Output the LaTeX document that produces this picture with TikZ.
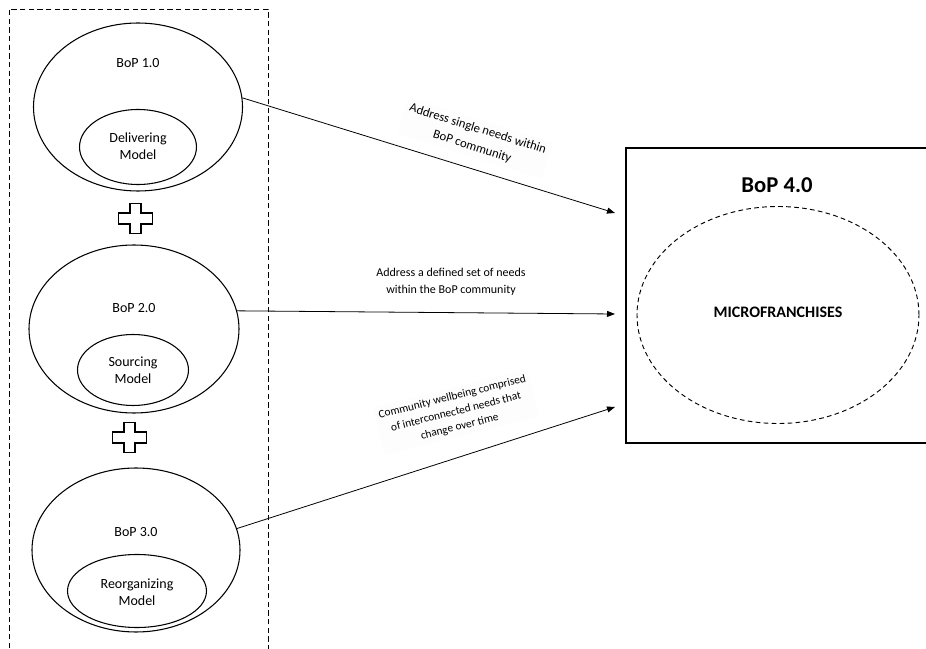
\documentclass[tikz,border=0pt]{standalone}
\usepackage{fontspec}
\setmainfont{Carlito}
\usetikzlibrary{shapes.geometric,arrows.meta}
\tikzset{
  outerell/.style={ellipse,draw,line width=0.8pt,inner sep=0pt},
  innerell/.style={ellipse,draw,line width=0.8pt,inner sep=0pt},
  elltext/.style={font=\fontsize{10.5pt}{13pt}\selectfont,align=center,inner sep=0pt},
  conn/.style={line width=0.6pt,-{Triangle[length=6pt,width=4.5pt]}},
  lbl/.style={fill=white!99.3!black,align=center,inner sep=3pt},
  plussign/.pic={\draw[line width=0.8pt] (-5.5,-15)--(5.5,-15)--(5.5,-5.5)--(17,-5.5)--(17,5.5)--(5.5,5.5)--(5.5,15)--(-5.5,15)--(-5.5,5.5)--(-17,5.5)--(-17,-5.5)--(-5.5,-5.5)--cycle;}
}
\begin{document}
\begin{tikzpicture}[x=0.75pt,y=-0.75pt]
\useasboundingbox[fill=white] (0,0) rectangle (926,649);
% dashed frame
\node[draw,dash pattern=on 4pt off 2.5pt,line width=0.7pt,minimum width=194.25pt,minimum height=488.25pt,inner sep=0pt] (frame) at (138.5,334.5) {};
% ellipses
\node[outerell,minimum width=156.75pt,minimum height=126pt] (e1) at (138,107) {};
\node[innerell,minimum width=87.75pt,minimum height=56.25pt] (i1) at (138,147) {};
\node[elltext] (t1) at (138,63) {BoP 1.0};
\node[elltext] (m1) at (138,146) {Delivering\\Model};
\node[outerell,minimum width=157.5pt,minimum height=126pt] (e2) at (134,329) {};
\node[innerell,minimum width=83.25pt,minimum height=53.25pt] (i2) at (133,370) {};
\node[elltext] (t2) at (134,308) {BoP 2.0};
\node[elltext] (m2) at (133,370) {Sourcing\\Model};
\node[outerell,minimum width=156pt,minimum height=123pt] (e3) at (136,550) {};
\node[innerell,minimum width=104.25pt,minimum height=54.75pt] (i3) at (137,591) {};
\node[elltext] (t3) at (136,532) {BoP 3.0};
\node[elltext] (m3) at (137,592) {Reorganizing\\Model};
% plus signs
\pic at (135.5,218.5) {plussign};
\pic at (129.5,437.5) {plussign};
% right box
\node[draw,line width=0.8pt,minimum width=240pt,minimum height=221.25pt,inner sep=0pt] (box) at (786,295.5) {};
\node[draw,dash pattern=on 3.5pt off 2.5pt,line width=0.7pt,ellipse,minimum width=211.5pt,minimum height=162.75pt,inner sep=0pt] (micro) at (778,315) {};
\node[font=\bfseries\fontsize{17pt}{20pt}\selectfont,inner sep=0pt] (b4) at (777,185) {BoP 4.0};
\node[font=\bfseries\fontsize{12pt}{14pt}\selectfont,inner sep=0pt] (mf) at (778,312) {MICROFRANCHISES};
% arrow targets
\coordinate (a1) at (615,213);
\coordinate (a2) at (615,314);
\coordinate (a3) at (615,407);
% labels
\node[lbl,rotate=-17.5,font=\fontsize{9.5pt}{14pt}\selectfont] (l1) at (475,138) {Address single needs within\\BoP community};
\node[lbl,fill=white,font=\fontsize{9pt}{12.75pt}\selectfont] (l2) at (451,282) {Address a defined set of needs\\within the BoP community};
\node[lbl,rotate=14,font=\fontsize{8.5pt}{11.5pt}\selectfont] (l3) at (456,412) {Community wellbeing comprised\\of interconnected needs that\\change over time};
\draw[conn] (e1.5.5) -- (a1);
\draw[conn] (e2.10) -- (a2);
\draw[conn] (e3.12.5) -- (a3);
\end{tikzpicture}
\end{document}
